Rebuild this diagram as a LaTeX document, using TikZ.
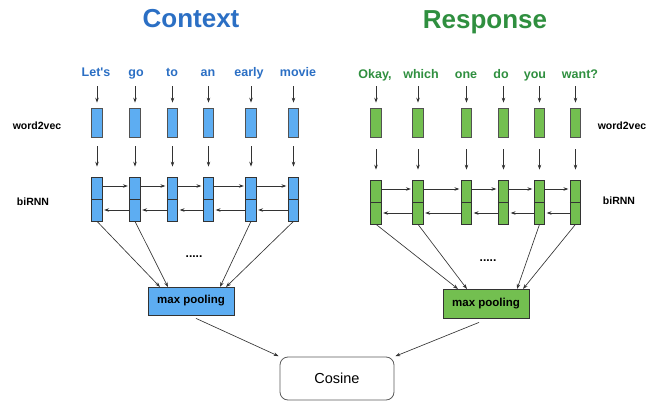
\documentclass[tikz,border=0pt]{standalone}
\usepackage{fontspec}
\setmainfont{Liberation Sans}[Ligatures=TeXOff]
\usetikzlibrary{arrows.meta}
\definecolor{ctxblue}{HTML}{2B6FC4}
\definecolor{boxblue}{HTML}{5DADF2}
\definecolor{resgreen}{HTML}{2F8F3F}
\definecolor{boxgreen}{HTML}{73BF50}
\definecolor{edgec}{HTML}{333333}
\begin{document}
\begin{tikzpicture}[x=1pt,y=-1pt,
  arr/.style={-{Stealth[length=5pt,width=3.5pt]}, draw=edgec, line width=0.65pt},
  emb/.style={draw=edgec!85, line width=0.7pt, minimum width=10.5pt, minimum height=29pt, inner sep=0pt},
  rnn/.style={draw=edgec, line width=0.7pt, minimum width=10.5pt, minimum height=44pt, inner sep=0pt},
  word/.style={font=\bfseries\fontsize{12.5}{14}\selectfont, inner sep=0pt, text height=9pt, text depth=3pt, anchor=base},
  lab/.style={font=\bfseries\fontsize{10.5}{12}\selectfont, inner sep=0pt},
  title/.style={font=\bfseries\fontsize{26}{30}\selectfont, inner sep=0pt, anchor=base},
  pool/.style={draw=edgec, line width=0.8pt, minimum width=86pt, minimum height=28pt, inner sep=0pt, font=\bfseries\fontsize{11.5}{13}\selectfont},
  dots/.style={font=\bfseries\fontsize{12}{14}\selectfont, inner sep=0pt}
]
\useasboundingbox (0,0) rectangle (648,401);

% Titles
\node[title, text=ctxblue] (tctx) at (191,28) {Context};
\node[title, text=resgreen] (tres) at (485,29) {Response};

% Side labels
\node[lab] (lw2vL) at (37,126) {word2vec};
\node[lab] (lrnnL) at (33,202) {biRNN};
\node[lab] (lw2vR) at (622,126) {word2vec};
\node[lab] (lrnnR) at (619,201) {biRNN};

% ---------- Context ----------
\foreach \i/\w/\wx/\bx in {1/{Let's}/96/97, 2/go/136/135, 3/to/172/172.5, 4/an/208/208.5, 5/early/249/251, 6/movie/298/293.5} {
  \node[word, text=ctxblue] (cw\i) at (\wx,77) {\w};
  \node[emb, fill=boxblue] (ce\i) at (\bx,122.5) {};
  \node[rnn, fill=boxblue] (cr\i) at (\bx,199) {};
  \draw[draw=edgec, line width=0.7pt] (cr\i.west) -- (cr\i.east);
  \draw[arr, shorten <=6pt, shorten >=5pt] (cw\i.south -| ce\i.north) -- (ce\i.north);
  \draw[arr, shorten <=9pt, shorten >=10pt] (ce\i.south) -- (cr\i.north);
}
\foreach \i/\j in {1/2,2/3,3/4,4/5,5/6} {
  \draw[arr, shorten >=1.5pt] ([yshift=13pt]cr\i.east) -- ([yshift=13pt]cr\j.west);
  \draw[arr, shorten >=1.5pt] ([yshift=-11pt]cr\j.west) -- ([yshift=-11pt]cr\i.east);
}
\node[dots] (cdots) at (194,257) {.....};
\node[pool, fill=boxblue] (cpool) at (191,301) {max pooling};
\coordinate (cp1) at (160,287);
\coordinate (cp2) at (168,287);
\coordinate (cp5) at (220,287);
\coordinate (cp6) at (226,287);
\draw[arr] (cr1.south) -- (cp1);
\draw[arr] (cr2.south) -- (cp2);
\draw[arr] (cr5.south) -- (cp5);
\draw[arr] (cr6.south) -- (cp6);

% ---------- Response ----------
\foreach \i/\w/\wx/\bx in {1/{Okay,}/375/376, 2/which/421/418, 3/one/466/466.5, 4/do/501/503.5, 5/you/535/539.5, 6/want?/580/575.5} {
  \node[word, text=resgreen] (rw\i) at (\wx,79) {\w};
  \node[emb, fill=boxgreen] (re\i) at (\bx,122.5) {};
  \node[rnn, fill=boxgreen] (rr\i) at (\bx,202) {};
  \draw[draw=edgec, line width=0.7pt] (rr\i.west) -- (rr\i.east);
  \draw[arr, shorten <=4pt, shorten >=5pt] (rw\i.south -| re\i.north) -- (re\i.north);
  \draw[arr, shorten <=12pt, shorten >=10pt] (re\i.south) -- (rr\i.north);
}
\foreach \i/\j in {1/2,2/3,3/4,4/5,5/6} {
  \draw[arr, shorten >=1.5pt] ([yshift=13pt]rr\i.east) -- ([yshift=13pt]rr\j.west);
  \draw[arr, shorten >=1.5pt] ([yshift=-11pt]rr\j.west) -- ([yshift=-11pt]rr\i.east);
}
\node[dots] (rdots) at (488,261) {.....};
\node[pool, fill=boxgreen, minimum height=29pt] (rpool) at (486,303.5) {max pooling};
\coordinate (rp1) at (458,289);
\coordinate (rp2) at (467,289);
\coordinate (rp5) at (517,289);
\coordinate (rp6) at (523,289);
\draw[arr] (rr1.south) -- (rp1);
\draw[arr] (rr2.south) -- (rp2);
\draw[arr] (rr5.south) -- (rp5);
\draw[arr] (rr6.south) -- (rp6);

% ---------- Cosine ----------
\node[draw=edgec!80, line width=0.8pt, rounded corners=8pt, minimum width=114pt, minimum height=43pt, inner sep=0pt, font=\fontsize{14.5}{16}\selectfont] (cos) at (337,378.5) {Cosine};
\draw[arr, shorten >=1pt] ([xshift=5pt,yshift=-3pt]cpool.south) -- (cos.north west);
\draw[arr, shorten >=1pt] ([xshift=-7pt,yshift=-4pt]rpool.south) -- (cos.north east);
\end{tikzpicture}
\end{document}
